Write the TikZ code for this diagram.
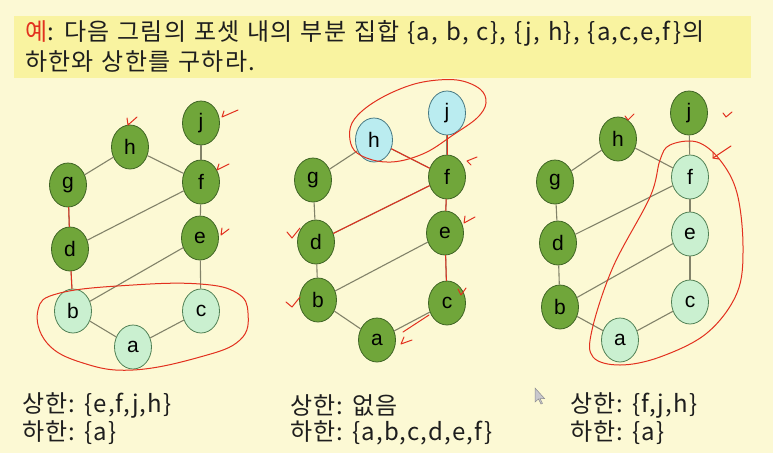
\documentclass[tikz,border=0pt]{standalone}
\usepackage{fontspec}
\setmainfont{Liberation Sans}
\newfontfamily\kr[LetterSpace=5]{Noto Sans CJK KR}
\newcommand\myttlfont{\kr\fontsize{24}{24}\selectfont\spaceskip 8pt plus 1pt\relax}
\usetikzlibrary{shapes.geometric}
\definecolor{bgc}{RGB}{252,249,212}
\definecolor{boxc}{RGB}{249,243,160}
\definecolor{dkf}{RGB}{112,166,58}
\definecolor{dkb}{RGB}{62,100,36}
\definecolor{ltf}{RGB}{202,240,208}
\definecolor{ltb}{RGB}{80,128,84}
\definecolor{cyf}{RGB}{186,236,240}
\definecolor{cyb}{RGB}{70,120,130}
\definecolor{edgec}{RGB}{130,130,105}
\definecolor{redc}{RGB}{226,48,30}
\definecolor{txt}{RGB}{30,30,30}
\definecolor{curc}{RGB}{200,200,205}
\tikzset{
 dk/.style={ellipse, draw=dkb, fill=dkf, line width=0.8pt, minimum width=37pt, minimum height=44pt, inner sep=0pt, font=\fontsize{21}{21}\selectfont},
 lt/.style={dk, draw=ltb, fill=ltf},
 cy/.style={dk, draw=cyb, fill=cyf},
 ed/.style={draw=edgec, line width=1.1pt},
 rd/.style={draw=redc, line width=1pt, line cap=round, line join=round},
 lbl/.style={anchor=west, inner sep=0pt, text=txt, font=\kr\fontsize{24}{24}\selectfont},
 ttl/.style={lbl, font=\myttlfont},
}
\begin{document}
\begin{tikzpicture}[x=1pt,y=-1pt]
\useasboundingbox (0,0) rectangle (773,453);
\fill[bgc] (0,0) rectangle (773,453);
\fill[boxc] (14,16) rectangle (751,78);
\node[ttl] (t1) at (25,33) {\textcolor{redc}{예}: 다음 그림의 포셋 내의 부분 집합 \{a, b, c\}, \{j, h\}, \{a,c,e,f\}의};
\node[ttl] (t2) at (25,62) {하한와 상한를 구하라.};
% graph 1
\node[dk] (j1) at (201,123) {j};
\node[dk] (h1) at (130,147) {h};
\node[dk] (g1) at (68,185) {g};
\node[dk] (f1) at (201,182) {f};
\node[dk] (d1) at (70,249) {d};
\node[dk] (e1) at (200,238) {e};
\node[lt] (b1) at (73,311) {b};
\node[lt] (c1) at (201,311) {c};
\node[lt] (a1) at (133,347) {a};
% graph 2
\node[cy] (j2) at (447,113) {j};
\node[cy] (h2) at (374,140) {h};
\node[dk] (g2) at (313,180) {g};
\node[dk] (f2) at (447,177) {f};
\node[dk] (d2) at (316,242) {d};
\node[dk] (e2) at (445,233) {e};
\node[dk] (b2) at (318,300) {b};
\node[dk] (c2) at (447,303) {c};
\node[dk] (a2) at (377,340) {a};
% graph 3
\node[dk] (j3) at (689,113) {j};
\node[dk] (h3) at (618,139) {h};
\node[dk] (g3) at (555,182) {g};
\node[lt] (f3) at (690,177) {f};
\node[dk] (d3) at (558,243) {d};
\node[lt] (e3) at (690,234) {e};
\node[dk] (b3) at (560,307) {b};
\node[lt] (c3) at (690,302) {c};
\node[lt] (a3) at (620,340) {a};
\foreach \k in {1,2,3}{
 \foreach \u/\v in {h/g,h/f,j/f,f/d,f/e,g/d,d/b,e/b,e/c,b/a,a/c}
  \draw[ed] (\u\k) -- (\v\k);
}
% red annotations graph 1
\draw[rd] plot[smooth cycle, tension=0.7] coordinates {(38,310) (60,293) (133,285) (200,284) (237,293) (248,313) (240,340) (200,357) (133,370) (83,363) (47,343)};
\draw[rd] (g1) -- (d1);
\draw[rd] (d1) -- (b1);
\draw[rd] (137,117) -- (128,125) -- (127,118);
\draw[rd] (238,110) -- (222,117) -- (224,111);
\draw[rd] (229,164) -- (217,170) -- (219,164);
\draw[rd] (229,229) -- (221,235) -- (222,228);
% red annotations graph 2
\draw[rd] plot[smooth cycle, tension=0.6] coordinates {(350,140) (352,123) (367,107) (393,92) (423,82) (457,80) (480,89) (486,103) (477,118) (453,135) (427,152) (400,161) (377,161) (357,153)};
\draw[rd] (j2) -- (f2);
\draw[rd] (h2) -- (f2);
\draw[rd] (f2) -- (d2);
\draw[rd] (f2) -- (e2);
\draw[rd] (e2) -- (c2);
\draw[rd] (429,315) -- (403,332);
\draw[rd] (287,232) -- (292,238) -- (300,228);
\draw[rd] (286,302) -- (292,307) -- (300,297);
\draw[rd] (477,157) -- (467,161) -- (471,165);
\draw[rd] (475,217) -- (464,223) -- (465,216);
\draw[rd] (466,288) -- (461,295) -- (458,289);
\draw[rd] (412,340) -- (401,344) -- (404,337);
% red annotations graph 3
\draw[rd] plot[smooth cycle, tension=0.6] coordinates {(670,145) (697,142) (720,160) (737,193) (743,247) (737,293) (707,333) (660,357) (620,365) (593,357) (592,330) (613,267) (650,197) (660,160)};
\draw[rd] (731,146) -- (713,158);
\draw[rd] (713,152) -- (713,158) -- (719,159);
\draw[rd] (625,116) -- (628,120) -- (634,114);
\draw[rd] (723,113) -- (726,117) -- (732,112);
% cursor
\draw[curc!70!black, fill=curc, line width=0.5pt] (535,388) -- (535,402) -- (538.5,399) -- (541,404) -- (542.5,403.3) -- (540,398.5) -- (544.5,398.5) -- cycle;
% bottom text
\node[lbl] (u1) at (22,405) {상한: \{e,f,j,h\}};
\node[lbl] (l1) at (22,433) {하한: \{a\}};
\node[lbl] (u2) at (290,405) {상한: 없음};
\node[lbl] (l2) at (290,433) {하한: \{a,b,c,d,e,f\}};
\node[lbl] (u3) at (570,405) {상한: \{f,j,h\}};
\node[lbl] (l3) at (570,433) {하한: \{a\}};
\end{tikzpicture}
\end{document}
